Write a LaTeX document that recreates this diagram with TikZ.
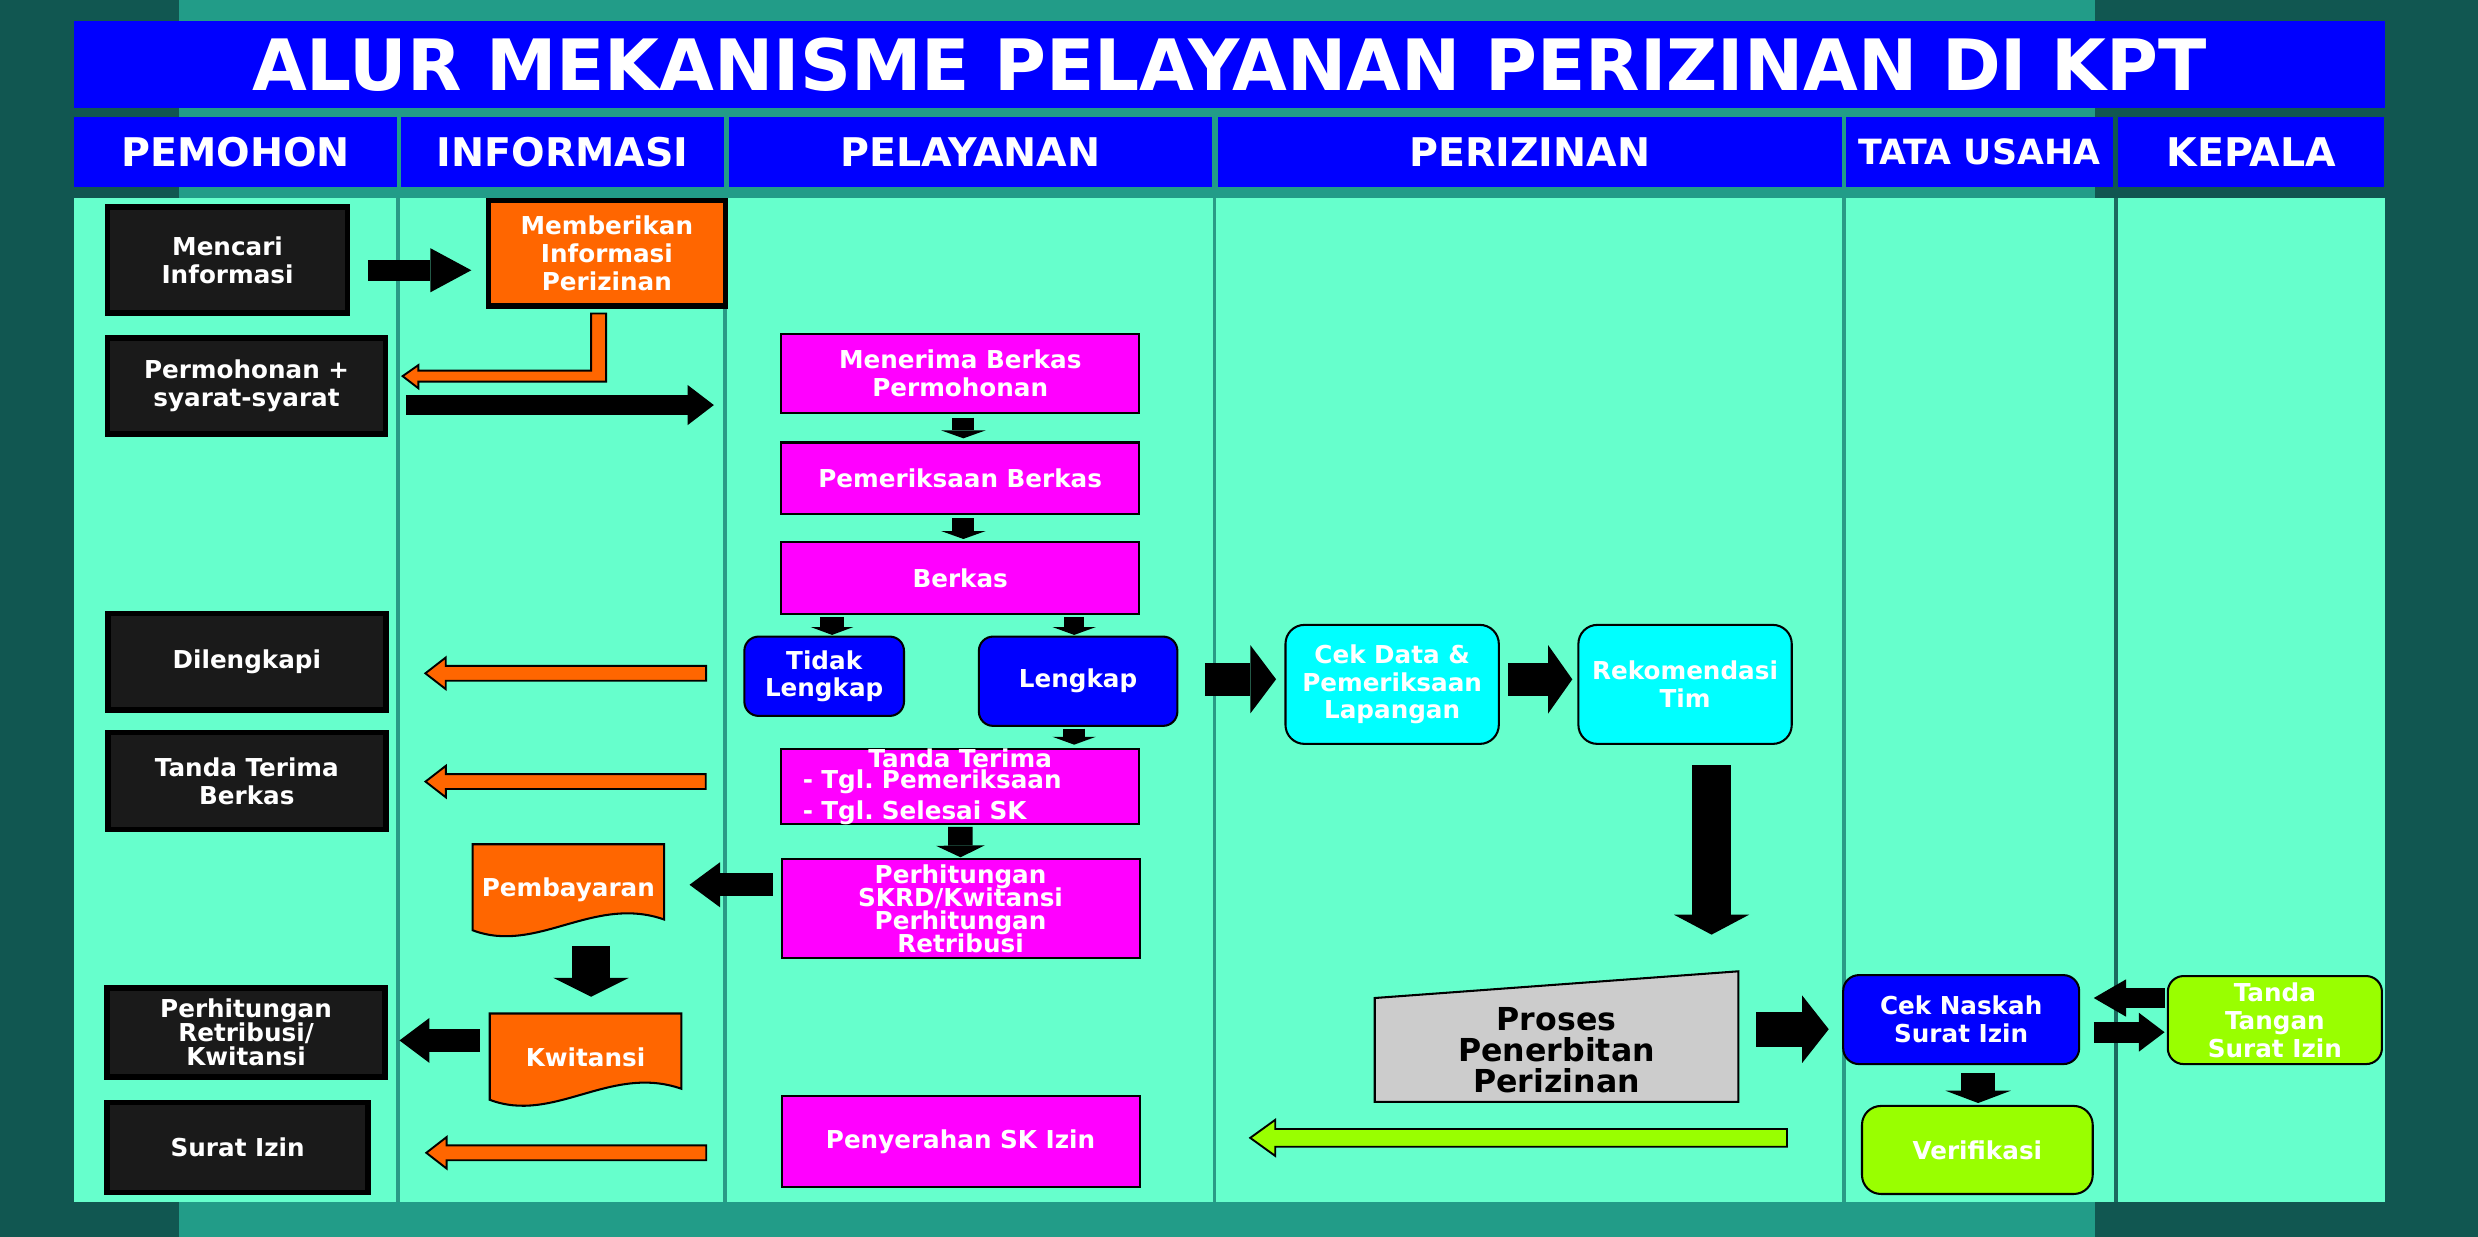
\documentclass[tikz,border=0pt]{standalone}
\usepackage{fontspec}
\setmainfont{DejaVu Sans}
\usepackage{tikz}
\usetikzlibrary{arrows.meta,calc,backgrounds}

\definecolor{darkteal}{HTML}{115751}
\definecolor{midteal}{HTML}{229C88}
\definecolor{mint}{HTML}{66FFCC}
\definecolor{lanegreen}{HTML}{2A9A86}
\definecolor{lanedark}{HTML}{1C6B60}
\definecolor{boxblack}{HTML}{1A1A1A}
\definecolor{orangefill}{HTML}{FF6600}
\definecolor{limefill}{HTML}{99FF00}
\definecolor{grayfill}{HTML}{CCCCCC}
\definecolor{magentafill}{HTML}{FF00FF}
\definecolor{cyanfill}{HTML}{00FFFF}
\definecolor{bluefill}{HTML}{0000FF}

\tikzset{
  txt/.style={text=white, align=center, inner sep=0pt},
  lanehead/.style={txt, fill=bluefill, minimum height=44.5pt, font=\bfseries\fontsize{25}{25}\selectfont},
  pbox/.style={txt, draw=black, line width=3.5pt, fill=boxblack},
  ibox/.style={txt, draw=black, line width=3.5pt, fill=orangefill},
  mbox/.style={txt, draw=black, line width=1.3pt, fill=magentafill, minimum width=226.5pt},
  rbox/.style={txt, draw=black, line width=1.3pt, fill=bluefill, rounded corners=9pt},
  cbox/.style={txt, draw=black, line width=1.3pt, fill=cyanfill, rounded corners=12pt, minimum width=135pt, minimum height=75.3pt},
  gbox/.style={txt, draw=black, line width=1.3pt, fill=limefill, rounded corners=10pt},
  docbox/.style={txt, minimum width=120.8pt, minimum height=47.2pt, text depth=0pt},
  docshape/.style={draw=black, line width=1.3pt, fill=orangefill},
  laneline/.style={line width=2.5pt},
  fatarrow/.style args={#1/#2/#3}{draw=black, line width=#1, -{Triangle[width=#2, length=#3, line width=0pt]}},
  flatdims/.code args={#1/#2/#3}{\def\shafthw{#1}\def\headhw{#2}\def\headlen{#3}},
  orangearrow/.style={draw=black, line width=1.2pt, fill=orangefill, flatdims={4.7pt/10pt/12.9pt}},
  limearrow/.style={draw=black, line width=1.2pt, fill=limefill, flatdims={5.6pt/11.4pt/15.8pt}}
}

% flat arrow pointing left, from tail #2 to the x of tip #3
\newcommand\flatarrow[3]{%
  \draw[#1] let \p1=#2, \p2=#3 in
    (\x1,\y1+\shafthw) -- (\x2+\headlen,\y1+\shafthw) -- (\x2+\headlen,\y1+\headhw)
    -- (\x2,\y1) -- (\x2+\headlen,\y1-\headhw) -- (\x2+\headlen,\y1-\shafthw)
    -- (\x1,\y1-\shafthw) -- cycle;}

\begin{document}
\lineskiplimit=-30pt
\frenchspacing
\begin{tikzpicture}[x=1pt, y=-1pt, every node/.style={font=\bfseries\fontsize{15.6}{17.6}\selectfont}]
      \useasboundingbox (0,0) rectangle (1568,782.7);
      %%%%%%%%%%%%%%%%%%%%%%%%%%%%%%%%%%%%%%%%%%%%%%%
      \node[fill=bluefill, text=white, minimum width=1462pt, minimum height=55.5pt, inner sep=0pt, font=\bfseries\fontsize{44.8}{44.8}\selectfont] at (778,40.75) (title) {ALUR MEKANISME PELAYANAN PERIZINAN DI KPT};
      \node[lanehead, minimum width=204pt] at (149,96.25)    (hpemohon)   {PEMOHON};
      \node[lanehead, minimum width=204pt] at (356,96.25)    (hinformasi) {INFORMASI};
      \node[lanehead, minimum width=306pt] at (614,96.25)    (hpelayanan) {PELAYANAN};
      \node[lanehead, minimum width=395pt] at (968,96.25)    (hperizinan) {PERIZINAN};
      \node[lanehead, minimum width=169pt, font=\bfseries\fontsize{22}{22}\selectfont] at (1252.5,96.25) (htatausaha) {TATA USAHA};
      \node[lanehead, minimum width=168pt] at (1424.5,96.25) (hkepala)    {KEPALA};
      %%%%%%%%%%%%%%%%%%%%%%%%%%%%%%%%%%%%%%%%%%%%%%%
      \node[pbox, minimum width=152pt, minimum height=67pt]   at (144,164.5)   (mencari)     {Mencari\\Informasi};
      \node[pbox, minimum width=176pt, minimum height=60.6pt] at (156,244.3)   (permohonan)  {Permohonan +\\syarat-syarat};
      \node[pbox, minimum width=176pt, minimum height=61.2pt] at (156.2,418.7) (dilengkapi)  {Dilengkapi};
      \node[pbox, minimum width=176pt, minimum height=61.2pt] at (156.2,494.2) (tandaberkas) {Tanda Terima\\Berkas};
      \node[pbox, minimum width=175.8pt, minimum height=56.3pt, font=\bfseries\fontsize{15.6}{15.4}\selectfont] at (155.7,653.2) (retribusi) {Perhitungan\\Retribusi/\\Kwitansi};
      \node[pbox, minimum width=165.2pt, minimum height=56.9pt] at (150.4,726.2) (suratizin) {Surat Izin};
      %%%%%%%%%%%%%%%%%%%%%%%%%%%%%%%%%%%%%%%%%%%%%%%
      \node[ibox, minimum width=150pt, minimum height=66.6pt] at (384,160.3) (memberikan) {Memberikan\\Informasi\\Perizinan};
      \node[docbox, text height=18.8pt] at (359.6,558)   (pembayaran) {Pembayaran};
      \node[docbox, text height=19.6pt] at (370.5,665.1) (kwitansi)   {Kwitansi};
      %%%%%%%%%%%%%%%%%%%%%%%%%%%%%%%%%%%%%%%%%%%%%%%
      \node[mbox, minimum height=49.8pt] at (607.6,236.2) (menerima)    {Menerima Berkas\\Permohonan};
      \node[mbox, minimum height=45.4pt] at (607.6,302.7) (pemeriksaan) {Pemeriksaan Berkas};
      \node[mbox, minimum height=45.4pt] at (607.6,365.8) (berkas)      {Berkas};
      \node[rbox, minimum width=101pt, minimum height=50.2pt]   at (521.5,427.9)  (tidak)   {Tidak\\Lengkap};
      \node[rbox, minimum width=125.6pt, minimum height=56.5pt] at (682.2,431.05) (lengkap) {Lengkap};
      \node[mbox, minimum height=45.6pt, text width=213pt, align=left, font=\bfseries\fontsize{15.6}{11.8}\selectfont] at (607.6,497.7) (tandaterima) {\noindent\makebox[213pt]{Tanda Terima}\\\hspace*{7pt}- Tgl. Pemeriksaan\\[3.4pt]\hspace*{7pt}- Tgl. Selesai SK};
      \node[mbox, minimum height=62.3pt, font=\bfseries\fontsize{15.6}{14.6}\selectfont] at (607.8,574.85) (perhitungan) {Perhitungan\\SKRD/Kwitansi\\Perhitungan\\Retribusi};
      \node[mbox, minimum height=57.4pt] at (607.8,722.2) (penyerahan) {Penyerahan SK Izin};
      %%%%%%%%%%%%%%%%%%%%%%%%%%%%%%%%%%%%%%%%%%%%%%%
      \node[cbox] at (880.9,433.05)  (cekdata) {Cek Data \&\\Pemeriksaan\\Lapangan};
      \node[cbox] at (1066.25,433.05) (rekom)  {Rekomendasi\\Tim};
      \node[minimum width=229.7pt, minimum height=65.3pt, align=center, inner sep=0pt, font=\bfseries\fontsize{20}{19.5}\selectfont] at (984.95,664.35) (proses) {Proses\\Penerbitan\\Perizinan};
      %%%%%%%%%%%%%%%%%%%%%%%%%%%%%%%%%%%%%%%%%%%%%%%
      \node[rbox, minimum width=149.3pt, minimum height=56.3pt, rounded corners=10pt] at (1240.95,645.15) (ceknaskah) {Cek Naskah\\Surat Izin};
      \node[gbox, minimum width=146pt, minimum height=55.7pt, rounded corners=12pt] at (1251.2,727.65) (verifikasi) {Verifikasi};
      \node[gbox, minimum width=135.5pt, minimum height=55.7pt] at (1439.45,645.45) (tandatangan) {Tanda\\Tangan\\Surat Izin};
      %%%%%%%%%%%%%%%%%%%%%%%%%%%%%%%%%%%%%%%%%%%%%%%
      \draw[fatarrow={13.5pt/28pt/26pt}, shorten <=11pt, shorten >=9pt] ([yshift=-6.5pt]mencari.east) -- ([yshift=-6.5pt]mencari.east -| memberikan.west);
      \draw[fatarrow={12.6pt/25.4pt/16.6pt}, shorten <=11pt, shorten >=42pt] ([yshift=-12pt]permohonan.east) -- ([yshift=-12pt]permohonan.east -| menerima.west);
      \draw[fatarrow={14pt/28pt/5pt}, shorten <=2.5pt, shorten >=2pt] ([xshift=2pt]menerima.south) -- ([xshift=2pt]pemeriksaan.north);
      \draw[fatarrow={14pt/28pt/5pt}, shorten <=1.9pt, shorten >=1.4pt] ([xshift=2pt]pemeriksaan.south) -- ([xshift=2pt]berkas.north);
      \draw[fatarrow={15pt/27pt/5pt}, shorten <=1.2pt, shorten >=0.4pt] ([xshift=5pt]tidak.north |- berkas.south) -- ([xshift=5pt]tidak.north);
      \draw[fatarrow={13pt/27.5pt/5pt}, shorten <=1.2pt, shorten >=0.4pt] ([xshift=-2.5pt]lengkap.north |- berkas.south) -- ([xshift=-2.5pt]lengkap.north);
      \draw[fatarrow={14pt/27.5pt/5pt}, shorten <=1.1pt, shorten >=1.9pt] ([xshift=-2.5pt]lengkap.south) -- ([xshift=-2.5pt]lengkap.south |- tandaterima.north);
      \draw[fatarrow={21pt/43.3pt/16.3pt}, shorten <=16.8pt, shorten >=5.3pt] ([yshift=1.25pt]lengkap.east) -- ([yshift=1.25pt]lengkap.east -| cekdata.west);
      \draw[fatarrow={21pt/43.3pt/15.3pt}, shorten <=5.1pt, shorten >=3.2pt] ([yshift=3.2pt]cekdata.east) -- ([yshift=3.2pt]cekdata.east -| rekom.west);
      \draw[fatarrow={25pt/47.5pt/12.6pt}, shorten <=12.8pt, shorten >=40.1pt] ([xshift=16.75pt]rekom.south) -- ([xshift=16.75pt]rekom.south |- proses.north);
      \draw[fatarrow={15.5pt/30.8pt/7.4pt}, shorten <=0.9pt, shorten >=0.6pt] (tandaterima.south) -- (perhitungan.north);
      \draw[fatarrow={14.4pt/28.5pt/19.3pt}, shorten <=5pt, shorten >=16.1pt] ([yshift=15pt]perhitungan.west) -- ([yshift=15pt]perhitungan.west -| pembayaran.east);
      \draw[fatarrow={24.5pt/48pt/12pt}, shorten <=16.7pt, shorten >=10.6pt] ([xshift=14.4pt]pembayaran.south) -- ([xshift=14.4pt]pembayaran.south |- kwitansi.north);
      \draw[fatarrow={14pt/28.5pt/19pt}, shorten <=6.3pt, shorten >=7.4pt] ([yshift=6.75pt]kwitansi.west) -- ([yshift=6.75pt]kwitansi.west -| retribusi.east);
      \draw[fatarrow={22pt/42.7pt/16.8pt}, shorten <=11.2pt, shorten >=8.5pt] ([yshift=13.1pt]proses.east) -- ([yshift=13.1pt]proses.east -| ceknaskah.west);
      \draw[fatarrow={13pt/23.6pt/20.4pt}, shorten <=1.4pt, shorten >=8.6pt] ([yshift=13.95pt]tandatangan.west) -- ([yshift=13.95pt]tandatangan.west -| ceknaskah.east);
      \draw[fatarrow={13.3pt/24.7pt/16.3pt}, shorten <=8.6pt, shorten >=1.4pt] ([yshift=-8pt]ceknaskah.east) -- ([yshift=-8pt]ceknaskah.east -| tandatangan.west);
      \draw[fatarrow={21.4pt/41.3pt/7.8pt}, shorten <=4.7pt, shorten >=1.2pt] ([xshift=10.75pt]ceknaskah.south) -- ([xshift=10.75pt]ceknaskah.south |- verifikasi.north);
      %%%%%%%%%%%%%%%%%%%%%%%%%%%%%%%%%%%%%%%%%%%%%%%
      \draw[orangearrow] let \p1=(memberikan.south), \p2=(permohonan.east) in
            (\x1-10pt,\y1-3pt) -- (\x1-0.5pt,\y1-3pt) -- (\x1-0.5pt,\y2+2.8pt) -- (\x2+19pt,\y2+2.8pt)
            -- (\x2+19pt,\y2-1.4pt) -- (\x2+9pt,\y2+6.3pt) -- (\x2+19pt,\y2+13.3pt) -- (\x2+19pt,\y2+9.8pt)
            -- (\x1-10pt,\y2+9.8pt) -- cycle;
      \flatarrow{orangearrow}{([xshift=-23.5pt,yshift=1.85pt]tidak.west)}{([xshift=23.2pt]dilengkapi.east)}
      \flatarrow{orangearrow}{([xshift=-47.1pt,yshift=3.15pt]tandaterima.west)}{([xshift=23.3pt]tandaberkas.east)}
      \flatarrow{orangearrow}{([xshift=-47pt,yshift=-7.25pt]penyerahan.west)}{([xshift=35pt]suratizin.east)}
      \flatarrow{limearrow}{([xshift=-46.8pt,yshift=7.65pt]verifikasi.west)}{([xshift=69.4pt]penyerahan.east)}
      %%%%%%%%%%%%%%%%%%%%%%%%%%%%%%%%%%%%%%%%%%%%%%%
      \begin{scope}[on background layer]
        \fill[darkteal] (0,0) rectangle (1568,782.7);
        \fill[midteal] (113,0) rectangle (1325.5,782.7);
        \fill[mint] (47,125.5) rectangle (1509,760.4);
        \draw[laneline, lanegreen] (252,125.5) -- (252,760.4)
              (459,125.5) -- (459,760.4)
              (768.5,125.5) -- (768.5,760.4)
              (1167,125.5) -- (1167,760.4);
        \draw[laneline, lanedark] (1339,125.5) -- (1339,760.4);
        \draw[docshape] (pembayaran.north west) -- (pembayaran.north east) -- (pembayaran.south east)
              .. controls +(-44.9,-15.7) and +(40.7,15.5) .. ([yshift=-6.8pt]pembayaran.south west) -- cycle;
        \draw[docshape] (kwitansi.north west) -- (kwitansi.north east) -- (kwitansi.south east)
              .. controls +(-44.9,-15.7) and +(40.7,15.5) .. ([yshift=-7pt]kwitansi.south west) -- cycle;
        \draw[fill=grayfill, line width=1.3pt] (proses.south west) -- (proses.north west) -- ([yshift=16.9pt]proses.north east) -- (proses.south east) -- cycle;
      \end{scope}
\end{tikzpicture}
\end{document}
